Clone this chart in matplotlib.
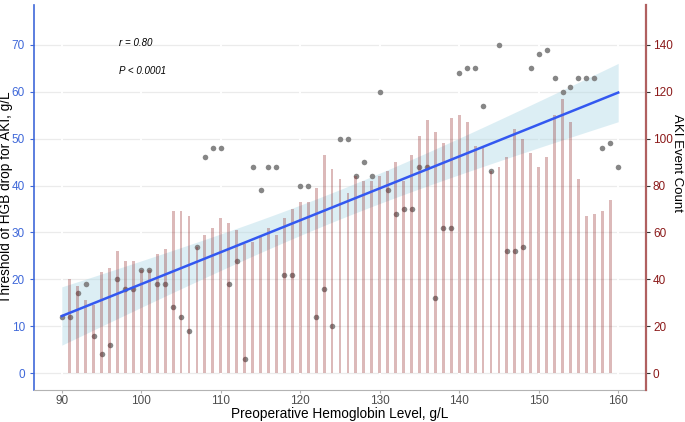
import numpy as np
import matplotlib
matplotlib.use("Agg")
import matplotlib.pyplot as plt

plt.rcParams["font.family"] = ["Liberation Sans", "DejaVu Sans"]

# %% data -----------------------------------------------------------------
hgb = np.arange(90, 161)
threshold = [12, 12, 17, 19, 8, 4, 6, 20, 18, 18,
             22, 22, 19, 19, 14, 12, 9, 27, 46, 48,
             48, 19, 24, 3, 44, 39, 44, 44, 21, 21,
             40, 40, 12, 18, 10, 50, 50, 42, 45, 42,
             60, 39, 34, 35, 35, 44, 44, 16, 31, 31,
             64, 65, 65, 57, 43, 70, 26, 26, 27, 65,
             68, 69, 63, 60, 61, 63, 63, 63, 48, 49,
             44]

bar_hgb = np.arange(91, 160)
aki_count = [40, 37, 31, 29, 43, 45, 52, 48, 48, 44,
             44, 51, 53, 69, 69, 67, 54, 59, 62, 66,
             64, 61, 55, 56, 58, 62, 59, 66, 70, 73,
             73, 79, 93, 87, 83, 77, 84, 82, 82, 84,
             86, 90, 82, 93, 101, 108, 103, 98, 109, 110,
             107, 97, 96, 86, 88, 92, 104, 100, 94, 88,
             92, 110, 117, 107, 83, 67, 68, 69, 74]

left_ticks = [0, 10, 20, 30, 40, 50, 60, 70]
right_ticks = [0, 20, 40, 60, 80, 100, 120, 140]
x_ticks = [90, 100, 110, 120, 130, 140, 150, 160]

# %% linear fit + 95% confidence band -------------------------------------
x = hgb.astype(float)
y = np.array(threshold, dtype=float)
slope, intercept = np.polyfit(x, y, 1)
xs = np.linspace(90, 160, 200)
yfit = slope * xs + intercept
resid = y - (slope * x + intercept)
n = len(x)
s = np.sqrt(np.sum(resid**2) / (n - 2))
se = s * np.sqrt(1 / n + (xs - x.mean())**2 / np.sum((x - x.mean())**2))
tval = 1.995  # t(0.975, df=69)

# %% figure -----------------------------------------------------------------
blue = "#3f68d9"
red = "#8b1a1a"

fig = plt.figure(figsize=(6.85, 4.22), dpi=100)
ax = fig.add_axes([34 / 685, 32 / 422, 612 / 685, 385 / 422])
ax2 = ax.twinx()

ax.set_xlim(86.5, 163.5)
ax.set_ylim(-3.6, 78.5)
ax2.set_ylim(-7.2, 157)

ax.yaxis.grid(True, color="#ebebeb", lw=0.9)
ax.set_axisbelow(True)
for xt in x_ticks:
    ax.axvline(xt, color="white", lw=1.4, zorder=0.7)

ax.fill_between(xs, yfit - tval * se, yfit + tval * se,
                color="#add8e6", alpha=0.42, lw=0, zorder=1)
ax.scatter(x, y, s=16, color="#808080", alpha=0.95, lw=0, zorder=2)

ax2.bar(bar_hgb, aki_count, width=0.36, color=red, alpha=0.3, lw=0, zorder=1)
ax2.plot(xs, yfit, color="#3358f0", lw=1.8, transform=ax.transData, zorder=3)

ax.text(97.2, 70.4, "r = 0.80", style="italic", fontsize=7, va="center")
ax.text(97.2, 64.4, "P < 0.0001", style="italic", fontsize=7, va="center")

# axes styling
for sp in ["top", "right"]:
    ax.spines[sp].set_visible(False)
for sp in ["top", "left", "bottom"]:
    ax2.spines[sp].set_visible(False)
ax.spines["left"].set_color(blue)
ax.spines["left"].set_linewidth(1.2)
ax.spines["bottom"].set_color("#b3b3b3")
ax2.spines["right"].set_color("#b06060")
ax2.spines["right"].set_linewidth(1.6)

ax.set_xticks(x_ticks)
ax.set_yticks(left_ticks)
ax2.set_yticks(right_ticks)
ax.tick_params(axis="x", colors="#4d4d4d", labelsize=8.5, length=2.5, width=0.8, pad=0.8)
ax.tick_params(axis="x", color="#b3b3b3")
ax.tick_params(axis="y", colors=blue, labelsize=8.5, length=3, width=0.8)
ax2.tick_params(axis="y", colors=red, labelsize=8.5, length=3, width=0.8, pad=2)
ax2.tick_params(axis="y", color="#333333")

ax.set_xlabel("Preoperative Hemoglobin Level, g/L", fontsize=9.8, va="center")
ax.set_ylabel("Threshold of HGB drop for AKI, g/L", fontsize=9.8, va="center")
ax2.set_ylabel("AKI Event Count", fontsize=9.5, rotation=270, va="center")
ax.xaxis.set_label_coords(0.5, -0.062)
ax.yaxis.set_label_coords(-0.046, 0.5)
ax2.yaxis.set_label_coords(1.051, 0.59)

fig.savefig("out.png", dpi=100)
